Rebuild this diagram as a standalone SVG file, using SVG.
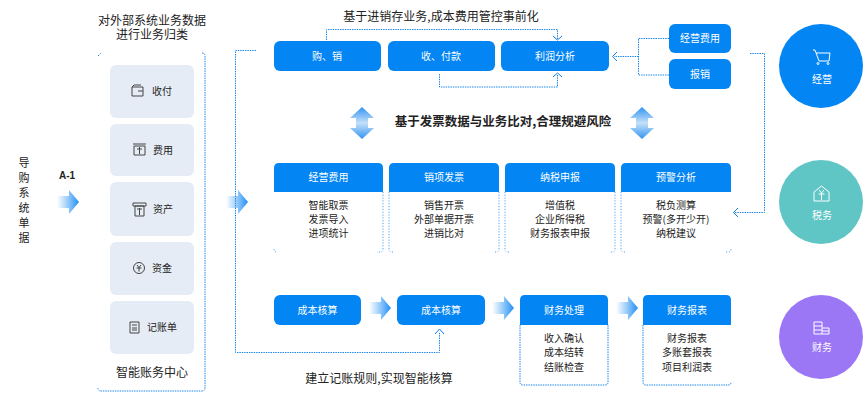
<svg xmlns="http://www.w3.org/2000/svg" width="864" height="404" viewBox="0 0 864 404">
<style>
text{font-family:"Noto Sans CJK SC","Liberation Sans",sans-serif;text-anchor:middle}
.t{font-size:12px;fill:#222}
.b{font-size:10px;fill:#222}
.w{font-size:10px;fill:#fff}
.c{fill:#0385f4}
.card{fill:#e6ecf5}
.d{fill:none;stroke:#0f82ee;stroke-width:1;stroke-dasharray:1.4 1}
.l{fill:none;stroke:#4aa3f2;stroke-width:1;stroke-dasharray:1.2 1.6}
.e{fill:none;stroke:#0f82ee;stroke-width:1}
.i{fill:none;stroke:#444;stroke-width:1}
.iw{fill:none;stroke:#fff;stroke-width:1}
</style>
<defs>
<linearGradient id="g" x1="0" x2="1" y1="0" y2="0"><stop offset="0" stop-color="#3a9cf5" stop-opacity="0"/><stop offset="1" stop-color="#1f8ef5"/></linearGradient>
<linearGradient id="v" x1="0" x2="0" y1="0" y2="1"><stop offset="0" stop-color="#2f93f0"/><stop offset=".5" stop-color="#c5e0f9"/><stop offset="1" stop-color="#2f93f0"/></linearGradient>
<path id="ar" d="M0 6H12V0L22 12L12 24V18H0Z" fill="url(#g)"/>
<path id="dbl" d="M12 0L24 11H18V21H24L12 32L0 21H6V11H0Z" fill="url(#v)"/>
</defs>
<g id="connectors">
<path class="d" d="M98 56L101 53M202 53Q205 53 205 56V388Q205 391 202 391H101Q98 391 98 388"/>
<path class="d" d="M256 50.500H235.500V352.500H439.500V332"/>
<path class="e" d="M435 334L439.500 329L444 334"/>
<path class="d" d="M326.500 40V29.500H557.500V39"/>
<path class="e" d="M553 36L557.500 40L562 36"/>
<path class="d" d="M439.500 74V87H557.500V75"/>
<path class="e" d="M553 77L557.500 73L562 77"/>
<path class="d" d="M669 38.500H638.500V75H669M638.500 56.500H614"/>
<path class="e" d="M617 52L612.500 56.500L617 61"/>
<path class="d" d="M750 53.500H764.500V212.500H735"/>
<path class="e" stroke-width="1.500" d="M738 208L733.500 212.500L738 217"/>
<use href="#ar" x="57" y="190"/>
<use href="#ar" x="226" y="190"/>
<use href="#ar" x="369" y="296"/>
<use href="#ar" x="492" y="296"/>
<use href="#ar" x="616" y="296"/>
<use href="#dbl" x="350" y="107"/>
<use href="#dbl" x="630" y="107"/>
</g>
<g id="source"><text x="24" y="157" style="font-size:11px;writing-mode:vertical-rl;letter-spacing:4px;text-anchor:start" fill="#222">导购系统单据</text></g>
<text x="67" y="179" style="font-size:10px;font-weight:700;font-family:'Liberation Sans',sans-serif" fill="#222">A-1</text>
<text class="t" x="152" y="25">对外部系统业务数据<tspan x="152" dy="14">进行业务归类</tspan></text>
<g id="card-shoufu"><rect class="card" x="110" y="65" width="84" height="53" rx="6"/><path class="i" d="M132 87H143V96H132ZM132 87L134 85H141M138 91H143"/><text class="b" x="162" y="95">收付</text></g>
<g id="card-feiyong"><rect class="card" x="110" y="124" width="84" height="52" rx="6"/><path class="i" d="M134 146H145V155H134ZM133 144H146M137 149H142M139.500 147V154"/><text class="b" x="163" y="154">费用</text></g>
<g id="card-zichan"><rect class="card" x="110" y="182" width="84" height="54" rx="6"/><path class="i" d="M133 203H146V206H133ZM135 206H144V216H135ZM137 209H142M139.500 208V215"/><text class="b" x="163" y="213">资产</text></g>
<g id="card-zijin"><rect class="card" x="110" y="242" width="84" height="53" rx="6"/><circle class="i" cx="139" cy="268" r="5.500"/><path class="i" d="M137 265L139 267.500L141 265M136.500 268H141.500M139 267.500V271.500"/><text class="b" x="162" y="272">资金</text></g>
<g id="card-jizhang"><rect class="card" x="110" y="301" width="84" height="53" rx="6"/><path class="i" d="M130 322H139V333H130ZM132 325H137M132 328H137M132 330H137"/><text class="b" x="162" y="331">记账单</text></g>
<text class="t" x="152" y="377">智能账务中心</text>
<text class="t" x="441" y="21">基于进销存业务,成本费用管控事前化</text>
<g id="n1"><rect class="c" x="274" y="41" width="107" height="30" rx="6"/><text class="w" x="327" y="60">购、销</text></g>
<g id="n2"><rect class="c" x="388" y="41" width="107" height="30" rx="6"/><text class="w" x="441" y="60">收、付款</text></g>
<g id="n3"><rect class="c" x="501" y="41" width="108" height="30" rx="6"/><text class="w" x="555" y="60">利润分析</text></g>
<g id="n4"><rect class="c" x="669" y="24" width="62" height="29" rx="6"/><text class="w" x="700" y="42">经营费用</text></g>
<g id="n5"><rect class="c" x="669" y="59" width="62" height="30" rx="6"/><text class="w" x="700" y="78">报销</text></g>
<text x="503" y="126" style="font-size:12.500px;font-weight:700" fill="#222">基于发票数据与业务比对,合理规避风险</text>
<g id="m1"><path class="l" d="M383 192V249Q383 252 380 252H377M274 249Q274 252 277 252"/><path class="c" d="M274 192V168Q274 163 279 163H378Q383 163 383 168V192Z"/><text class="w" x="328.500" y="181">经营费用</text><text class="b" x="328.500" y="209">智能取票</text><text class="b" x="328.500" y="223">发票导入</text><text class="b" x="328.500" y="237">进项统计</text></g>
<g id="m2"><path class="l" d="M389 192V249Q389 252 392 252H394M499 192V249Q499 252 496 252H494"/><path class="c" d="M389 192V168Q389 163 394 163H494Q499 163 499 168V192Z"/><text class="w" x="444" y="181">销项发票</text><text class="b" x="444" y="209">销售开票</text><text class="b" x="444" y="223">外部单据开票</text><text class="b" x="444" y="237">进销比对</text></g>
<g id="m3"><path class="l" d="M505 192V249Q505 252 508 252H510M615 192V249Q615 252 612 252H610"/><path class="c" d="M505 192V168Q505 163 510 163H610Q615 163 615 168V192Z"/><text class="w" x="560" y="181">纳税申报</text><text class="b" x="560" y="209">增值税</text><text class="b" x="560" y="223">企业所得税</text><text class="b" x="560" y="237">财务报表申报</text></g>
<g id="m4"><path class="l" d="M621 192V249Q621 252 624 252H626M731 249Q731 252 728 252H726"/><path class="c" d="M621 192V168Q621 163 626 163H726Q731 163 731 168V192Z"/><text class="w" x="676" y="181">预警分析</text><text class="b" x="676" y="209">税负测算</text><text class="b" x="676" y="223">预警(多开少开)</text><text class="b" x="676" y="237">纳税建议</text></g>
<g id="r1"><rect class="c" x="274" y="295" width="87" height="30" rx="6"/><text class="w" x="317.500" y="314">成本核算</text></g>
<g id="r2"><rect class="c" x="397" y="295" width="88" height="30" rx="6"/><text class="w" x="441" y="314">成本核算</text></g>
<g id="r3"><path class="d" d="M520 325V382Q520 385 523 385H605Q608 385 608 382V325"/><path class="c" d="M520 325V300Q520 295 525 295H603Q608 295 608 300V325Z"/><text class="w" x="564" y="314">财务处理</text><text class="b" x="564" y="342">收入确认</text><text class="b" x="564" y="356">成本结转</text><text class="b" x="564" y="371">结账检查</text></g>
<g id="r4"><path class="d" d="M643 325V382Q643 385 646 385H728Q731 385 731 382"/><path class="c" d="M643 325V300Q643 295 648 295H726Q731 295 731 300V325Z"/><text class="w" x="687" y="314">财务报表</text><text class="b" x="687" y="342">财务报表</text><text class="b" x="687" y="356">多账套报表</text><text class="b" x="687" y="371">项目利润表</text></g>
<text class="t" x="379" y="383">建立记账规则,实现智能核算</text>
<g id="jingying"><circle class="c" cx="821" cy="66" r="42"/><path class="iw" d="M813 50H815L819 61H829L830 53H816"/><circle class="iw" cx="818" cy="63.500" r="1"/><circle class="iw" cx="828" cy="63.500" r="1"/><text class="w" x="822" y="83">经营</text></g>
<g id="shuiwu"><circle cx="821" cy="202" r="42" fill="#5fc5c5"/><path class="iw" d="M814 192L821.500 186L829 192V201H814ZM819 190L821.500 193L824 190M818.500 194H824.500M821.500 193V200"/><text class="w" x="822" y="219">税务</text></g>
<g id="caiwu"><circle cx="821" cy="337" r="42" fill="#9b77f6"/><path class="iw" d="M814 322H822V334H814ZM814 326H822M814 330H822M822 328H829V334H822M822 331H829"/><text class="w" x="822" y="351">财务</text></g>
</svg>
